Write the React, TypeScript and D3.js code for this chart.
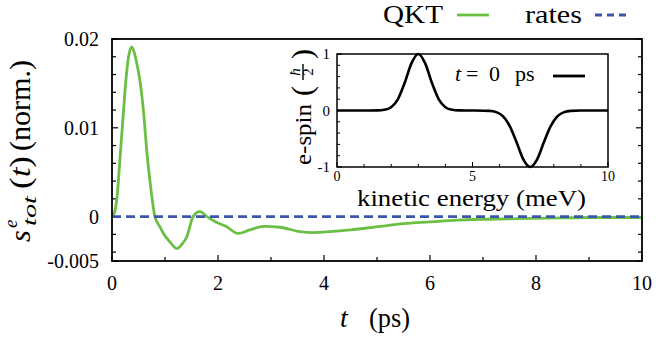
import React from "react";
import * as d3 from "d3";

// Main chart data: QKT spin signal vs time (ps)
const qktT = [0, 0.05, 0.1, 0.15, 0.2, 0.25, 0.3, 0.37, 0.42, 0.47, 0.53, 0.6, 0.65, 0.72, 0.81, 0.9, 0.97, 1.1, 1.22, 1.32, 1.41, 1.53, 1.66, 1.79, 1.96, 2.15, 2.38, 2.6, 2.86, 3.17, 3.55, 3.8, 4.11, 4.5, 5.06, 5.5, 6.0, 6.5, 6.94, 7.5, 7.89, 8.5, 9, 9.5, 10];
const qktV = [0, 0.0005, 0.0025, 0.0065, 0.0105, 0.0145, 0.0175, 0.0191, 0.0185, 0.0172, 0.0152, 0.0115, 0.0078, 0.0038, 0, -0.0011, -0.0019, -0.0029, -0.0036, -0.0031, -0.0023, 0, 0.00055, 0, -0.0006, -0.0011, -0.0019, -0.0015, -0.0011, -0.0012, -0.0017, -0.0018, -0.0017, -0.0015, -0.0011, -0.0008, -0.0006, -0.0004, -0.0003, -0.00025, -0.0002, -0.00015, -0.0001, -0.0001, -0.0001];
const ratesT = [0, 10];
const ratesV = [0, 0];

// Inset data: e-spin vs kinetic energy at t = 0 ps
const inE = [0, 1, 1.5, 1.75, 2, 2.25, 2.5, 2.75, 3, 3.25, 3.5, 3.75, 4, 4.25, 4.5, 5, 5.63, 5.88, 6.13, 6.38, 6.63, 6.88, 7.13, 7.38, 7.63, 7.88, 8.13, 8.38, 8.63, 9, 10];
const inS = [0, 0, 0.002, 0.012, 0.059, 0.203, 0.492, 0.838, 1, 0.838, 0.492, 0.203, 0.059, 0.012, 0.002, 0, -0.006, -0.029, -0.104, -0.28, -0.568, -0.868, -1, -0.868, -0.568, -0.28, -0.104, -0.029, -0.006, 0, 0];

const mainXMajor = [0, 2, 4, 6, 8, 10];
const mainXMinor = [1, 3, 5, 7, 9];
const mainYMajor = [-0.005, 0, 0.01, 0.02];
const mainYLabels = ["-0.005", "0", "0.01", "0.02"];
const mainYMinor = [-0.004, -0.002, 0.002, 0.004, 0.006, 0.008, 0.012, 0.014, 0.016, 0.018];
const inXMajor = [0, 5, 10];
const inXMinor = [1, 2, 3, 4, 6, 7, 8, 9];
const inYMajor = [-1, 0, 1];
const inYMinor = [-0.8, -0.6, -0.4, -0.2, 0.2, 0.4, 0.6, 0.8];

const GREEN = "#6cbf45";
const BLUE = "#3a55aa";
const FONT = '"Liberation Serif", "Times New Roman", Times, Tinos, "Noto Serif", "DejaVu Serif", FreeSerif, serif';

export default function App() {
  const x = d3.scaleLinear().domain([0, 10]).range([112, 642]);
  const y = d3.scaleLinear().domain([-0.005, 0.02]).range([261, 39]);
  const xi = d3.scaleLinear().domain([0, 10]).range([337, 608]);
  const yi = d3.scaleLinear().domain([-1, 1]).range([167, 54]);

  const qkt = d3
    .line<number>()
    .x((_, i) => x(qktT[i]))
    .y((d) => y(d))
    .curve(d3.curveMonotoneX)(qktV);
  const rates = d3
    .line<number>()
    .x((_, i) => x(ratesT[i]))
    .y((d) => y(d))(ratesV);
  const spin = d3
    .line<number>()
    .x((_, i) => xi(inE[i]))
    .y((d) => yi(d))
    .curve(d3.curveMonotoneX)(inS);

  const [x0, x1] = x.range();
  const [y0, y1] = y.range();
  const [ix0, ix1] = xi.range();
  const [iy0, iy1] = yi.range();
  const ts = { fontFamily: FONT };

  return (
    <svg
      width={656}
      height={337}
      style={{ position: "absolute", left: 0, top: 0, background: "#fff", fontFamily: FONT }}
    >
      <rect x={0} y={0} width={656} height={337} fill="#fff" />
      {/* main ticks */}
      {mainXMajor.map((v) => (
        <line key={"xM" + v} x1={x(v)} x2={x(v)} y1={y0} y2={y0 - 6} stroke="#000" strokeWidth={1.2} />
      ))}
      {mainXMinor.map((v) => (
        <line key={"xm" + v} x1={x(v)} x2={x(v)} y1={y0} y2={y0 - 4} stroke="#000" strokeWidth={1.2} />
      ))}
      {mainYMajor.map((v) => (
        <g key={"yM" + v}>
          <line x1={x0} x2={x0 + 6} y1={y(v)} y2={y(v)} stroke="#000" strokeWidth={1.2} />
          <line x1={x1} x2={x1 - 6} y1={y(v)} y2={y(v)} stroke="#000" strokeWidth={1.2} />
        </g>
      ))}
      {mainYMinor.map((v) => (
        <g key={"ym" + v}>
          <line x1={x0} x2={x0 + 4} y1={y(v)} y2={y(v)} stroke="#000" strokeWidth={1.2} />
          <line x1={x1} x2={x1 - 4} y1={y(v)} y2={y(v)} stroke="#000" strokeWidth={1.2} />
        </g>
      ))}
      {mainXMajor.map((v) => (
        <text key={"xl" + v} style={ts} x={x(v)} y={290} fontSize={20} textAnchor="middle">
          {v}
        </text>
      ))}
      {mainYMajor.map((v, i) => (
        <text key={"yl" + v} style={ts} x={99} y={y(v) + 7} fontSize={20} textAnchor="end">
          {mainYLabels[i]}
        </text>
      ))}

      {/* data */}
      <path d={qkt || ""} fill="none" stroke={GREEN} strokeWidth={2.8} strokeLinejoin="round" />
      <path d={rates || ""} fill="none" stroke={BLUE} strokeWidth={2.8} strokeDasharray="9,5" />

      {/* frame */}
      <rect x={x0} y={y1} width={x1 - x0} height={y0 - y1} fill="none" stroke="#000" strokeWidth={1.8} />

      {/* x label */}
      <text style={ts} x={340} y={327} fontSize={28} fontStyle="italic">t</text>
      <text style={ts} x={369} y={327} fontSize={27} textLength={41} lengthAdjust="spacingAndGlyphs">
        (ps)
      </text>

      {/* y label */}
      <g transform="translate(30,242) rotate(-90)">
        <text style={ts} x={0} y={0} fontSize={30} fontStyle="italic">s</text>
        <text style={ts} x={14} y={-13} fontSize={19} fontStyle="italic">e</text>
        <text style={ts} x={16} y={6} fontSize={19} fontStyle="italic" textLength={30} lengthAdjust="spacingAndGlyphs">tot</text>
        <text style={ts} x={53} y={0} fontSize={30} textLength={33} lengthAdjust="spacingAndGlyphs">
          (<tspan fontStyle="italic">t</tspan>)
        </text>
        <text style={ts} x={91} y={0} fontSize={30} textLength={91} lengthAdjust="spacingAndGlyphs">(norm.)</text>
      </g>

      {/* legend */}
      <text style={ts} x={383} y={23} fontSize={26} textLength={60} lengthAdjust="spacingAndGlyphs">QKT</text>
      <line x1={457} x2={489} y1={15} y2={15} stroke={GREEN} strokeWidth={2.8} />
      <text style={ts} x={525} y={23} fontSize={26} textLength={57} lengthAdjust="spacingAndGlyphs">rates</text>
      <line x1={595} x2={627} y1={15} y2={15} stroke={BLUE} strokeWidth={2.8} strokeDasharray="7,5" />

      {/* inset */}
      <rect x={ix0} y={iy1} width={ix1 - ix0} height={iy0 - iy1} fill="#fff" />
      {inXMajor.map((v) => (
        <line key={"ixM" + v} x1={xi(v)} x2={xi(v)} y1={iy0} y2={iy0 - 5} stroke="#000" strokeWidth={1} />
      ))}
      {inXMinor.map((v) => (
        <line key={"ixm" + v} x1={xi(v)} x2={xi(v)} y1={iy0} y2={iy0 - 3} stroke="#000" strokeWidth={1} />
      ))}
      {inYMajor.map((v) => (
        <line key={"iyM" + v} x1={ix0} x2={ix0 + 5} y1={yi(v)} y2={yi(v)} stroke="#000" strokeWidth={1} />
      ))}
      {inYMinor.map((v) => (
        <line key={"iym" + v} x1={ix0} x2={ix0 + 3} y1={yi(v)} y2={yi(v)} stroke="#000" strokeWidth={1} />
      ))}
      {inXMajor.map((v) => (
        <text key={"ixl" + v} style={ts} x={xi(v)} y={181} fontSize={14} textAnchor="middle">
          {v}
        </text>
      ))}
      {inYMajor.map((v) => (
        <text key={"iyl" + v} style={ts} x={330} y={yi(v) + 5} fontSize={15} textAnchor="end">
          {v}
        </text>
      ))}
      <path d={spin || ""} fill="none" stroke="#000" strokeWidth={2.6} strokeLinejoin="round" />
      <rect x={ix0} y={iy1} width={ix1 - ix0} height={iy0 - iy1} fill="none" stroke="#000" strokeWidth={1.5} />

      {/* inset legend */}
      <text style={ts} y={81} fontSize={22}>
        <tspan x={455} fontStyle="italic">t</tspan>
        <tspan x={466}>=</tspan>
        <tspan x={489}>0</tspan>
        <tspan x={515}>ps</tspan>
      </text>
      <line x1={553} x2={585} y1={76} y2={76} stroke="#000" strokeWidth={2.8} />

      {/* inset x label */}
      <text style={ts} x={357} y={206} fontSize={24} textLength={229} lengthAdjust="spacingAndGlyphs">
        kinetic energy (meV)
      </text>

      {/* inset y label */}
      <g transform="translate(311,165) rotate(-90)">
        <text style={ts} x={0} y={0} fontSize={23} textLength={61} lengthAdjust="spacingAndGlyphs">e-spin</text>
        <text style={ts} x={69} y={1} fontSize={30}>(</text>
        <text style={ts} x={93} y={-11} fontSize={15} fontStyle="italic" textAnchor="middle">ħ</text>
        <line x1={85} x2={101} y1={-8} y2={-8} stroke="#000" strokeWidth={1.4} />
        <text style={ts} x={93} y={2} fontSize={15} textAnchor="middle">2</text>
        <text style={ts} x={106} y={1} fontSize={30}>)</text>
      </g>
    </svg>
  );
}
